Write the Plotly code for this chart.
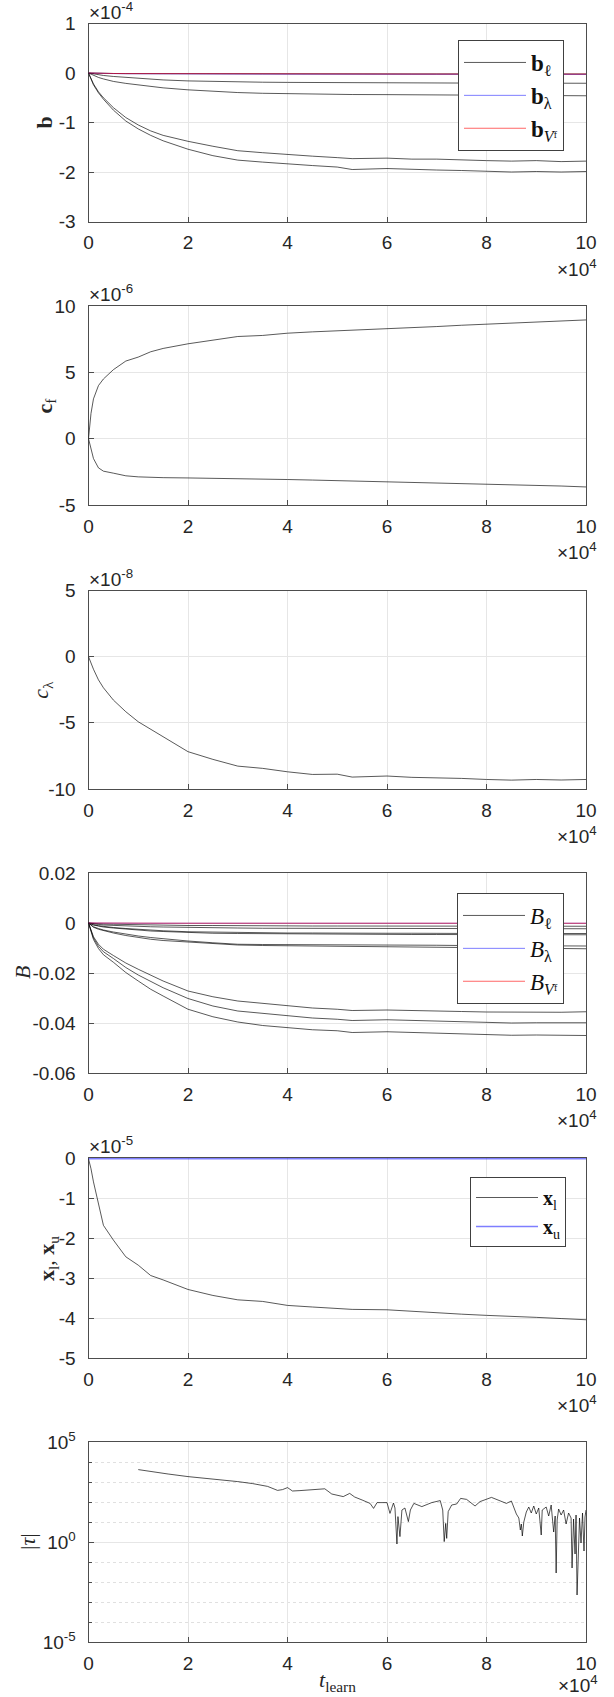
import numpy as np
import plotly.graph_objects as go

W, H = 614, 1697

# ---------------- data (x in units of 1e4) ----------------
t_grid = [0, 0.05, 0.1, 0.2, 0.3, 0.5, 0.75, 1.0, 1.25, 1.5, 2.0, 2.5, 3.0, 3.5,
          4.0, 4.5, 5.0, 5.3, 6.0, 6.5, 7.0, 7.5, 8.0, 8.5, 9.0, 9.5, 10.0]

# panel 1: b (units of 1e-4)
b_l_series = [
    [0, -0.002, -0.004, -0.006, -0.008, -0.010, -0.012, -0.013, -0.014, -0.015, -0.016, -0.017, -0.018, -0.018,
     -0.019, -0.019, -0.020, -0.020, -0.020, -0.021, -0.021, -0.021, -0.022, -0.022, -0.022, -0.022, -0.022],
    [0, -0.01, -0.02, -0.035, -0.05, -0.07, -0.09, -0.11, -0.125, -0.14, -0.16, -0.172, -0.18, -0.186,
     -0.19, -0.194, -0.197, -0.198, -0.2, -0.201, -0.202, -0.203, -0.204, -0.205, -0.206, -0.206, -0.207],
    [0, -0.025, -0.05, -0.09, -0.12, -0.17, -0.21, -0.24, -0.27, -0.3, -0.34, -0.37, -0.395, -0.41,
     -0.42, -0.425, -0.43, -0.435, -0.437, -0.44, -0.443, -0.445, -0.448, -0.452, -0.455, -0.458, -0.46],
    [0, -0.12, -0.22, -0.38, -0.5, -0.7, -0.9, -1.05, -1.17, -1.26, -1.38, -1.48, -1.57, -1.61,
     -1.65, -1.68, -1.71, -1.73, -1.72, -1.74, -1.74, -1.76, -1.77, -1.78, -1.77, -1.79, -1.78],
    [0, -0.13, -0.24, -0.4, -0.53, -0.75, -0.97, -1.13, -1.26, -1.37, -1.54, -1.67, -1.76, -1.8,
     -1.84, -1.87, -1.9, -1.95, -1.93, -1.95, -1.96, -1.97, -1.98, -2.0, -1.99, -2.0, -1.99],
]
b_lambda = [0, -0.002, -0.004, -0.007, -0.009, -0.012, -0.014, -0.016, -0.017, -0.018, -0.019, -0.020, -0.021, -0.022,
            -0.023, -0.023, -0.024, -0.024, -0.025, -0.025, -0.026, -0.026, -0.027, -0.027, -0.028, -0.028, -0.028]
b_Vf = [0, -0.002, -0.004, -0.006, -0.008, -0.010, -0.012, -0.013, -0.014, -0.015, -0.016, -0.017, -0.018, -0.018,
        -0.019, -0.019, -0.020, -0.020, -0.020, -0.021, -0.021, -0.021, -0.022, -0.022, -0.022, -0.022, -0.022]

# panel 2: c_f (units of 1e-6)
cf_upper = [0, 1.9, 3.0, 4.0, 4.5, 5.2, 5.85, 6.15, 6.55, 6.8, 7.15, 7.45, 7.7, 7.78,
            7.95, 8.05, 8.13, 8.17, 8.25, 8.35, 8.45, 8.55, 8.63, 8.7, 8.78, 8.87, 8.95]
cf_lower = [0, -0.8, -1.5, -2.2, -2.45, -2.6, -2.8, -2.88, -2.92, -2.94, -2.96, -2.98, -3.0, -3.04,
            -3.08, -3.12, -3.16, -3.19, -3.26, -3.3, -3.33, -3.37, -3.41, -3.46, -3.51, -3.57, -3.64]

# panel 3: c_lambda (units of 1e-8)
c_lambda = [0, -0.5, -0.95, -1.75, -2.35, -3.28, -4.16, -4.92, -5.5, -6.05, -7.18, -7.76, -8.27, -8.44,
            -8.7, -8.9, -8.88, -9.1, -9.02, -9.12, -9.15, -9.2, -9.28, -9.33, -9.28, -9.32, -9.28]

# panel 4: B
B_l_series = [
    [0, -0.0001, -0.0002, -0.0003, -0.0004, -0.0005, -0.0006, -0.0007, -0.0008, -0.0009, -0.0010, -0.0010, -0.0011, -0.0011,
     -0.0012, -0.0012, -0.0012, -0.0012, -0.0012, -0.0013, -0.0013, -0.0013, -0.0013, -0.0013, -0.0013, -0.0013, -0.0013],
    [0, -0.0002, -0.0004, -0.0006, -0.0008, -0.0010, -0.0012, -0.0014, -0.0015, -0.0016, -0.0018, -0.0019, -0.0020, -0.0021,
     -0.0021, -0.0021, -0.0022, -0.0022, -0.0022, -0.0022, -0.0023, -0.0023, -0.0023, -0.0023, -0.0023, -0.0023, -0.0023],
    [0, -0.0004, -0.0007, -0.0011, -0.0014, -0.0018, -0.0022, -0.0026, -0.0029, -0.0031, -0.0035, -0.0037, -0.0038, -0.0039,
     -0.0040, -0.0040, -0.0041, -0.0041, -0.0041, -0.0041, -0.0042, -0.0042, -0.0042, -0.0042, -0.0042, -0.0042, -0.0042],
    [0, -0.0004, -0.0008, -0.0012, -0.0016, -0.0020, -0.0025, -0.0029, -0.0032, -0.0034, -0.0038, -0.0041, -0.0042, -0.0043,
     -0.0044, -0.0045, -0.0045, -0.0046, -0.0046, -0.0046, -0.0046, -0.0047, -0.0047, -0.0047, -0.0047, -0.0047, -0.0047],
    [0, -0.0008, -0.0015, -0.0022, -0.0028, -0.0036, -0.0045, -0.0052, -0.0058, -0.0063, -0.0072, -0.0079, -0.0085, -0.0086,
     -0.0086, -0.0087, -0.0087, -0.0088, -0.0088, -0.0089, -0.0089, -0.0090, -0.0090, -0.0091, -0.0091, -0.0092, -0.0092],
    [0, -0.0009, -0.0017, -0.0025, -0.0031, -0.0040, -0.0050, -0.0059, -0.0065, -0.0070, -0.0076, -0.0083, -0.0088, -0.0090,
     -0.0091, -0.0093, -0.0094, -0.0095, -0.0095, -0.0097, -0.0098, -0.0099, -0.0100, -0.0101, -0.0102, -0.0103, -0.0103],
    [0, -0.0030, -0.0055, -0.0085, -0.0105, -0.0130, -0.0160, -0.0185, -0.0210, -0.0232, -0.0272, -0.0295, -0.0312, -0.0322,
     -0.0332, -0.0340, -0.0345, -0.0350, -0.0348, -0.0351, -0.0352, -0.0354, -0.0356, -0.0357, -0.0356, -0.0357, -0.0355],
    [0, -0.0033, -0.0060, -0.0093, -0.0115, -0.0142, -0.0178, -0.0208, -0.0235, -0.0259, -0.0302, -0.0332, -0.0352, -0.0362,
     -0.0372, -0.0380, -0.0385, -0.0390, -0.0387, -0.0390, -0.0392, -0.0395, -0.0399, -0.0400, -0.0399, -0.0400, -0.0399],
    [0, -0.0036, -0.0066, -0.0102, -0.0127, -0.0157, -0.0198, -0.0232, -0.0265, -0.0292, -0.0345, -0.0375, -0.0396, -0.0410,
     -0.0419, -0.0427, -0.0431, -0.0438, -0.0435, -0.0438, -0.0440, -0.0443, -0.0447, -0.0449, -0.0448, -0.0450, -0.0450],
]
B_lambda = [0, -0.00002, -0.00004, -0.00006, -0.00008, -0.0001, -0.0001, -0.0001, -0.0001, -0.0001, -0.0001, -0.0001, -0.0001, -0.0001,
            -0.0001, -0.0001, -0.0001, -0.0001, -0.0001, -0.0001, -0.0001, -0.0001, -0.0001, -0.0001, -0.0001, -0.0001, -0.0001]
B_Vf = [0, -0.00001, -0.00002, -0.00003, -0.00004, -0.00005, -0.00006, -0.00007, -0.00008, -0.00008, -0.00009, -0.0001, -0.0001, -0.0001,
        -0.0001, -0.0001, -0.0001, -0.0001, -0.0001, -0.0001, -0.0001, -0.0001, -0.0001, -0.0001, -0.0001, -0.0001, -0.0001]

# panel 5: x_l, x_u (units of 1e-5)
x_l = [0, -0.25, -0.58, -1.13, -1.67, -2.04, -2.46, -2.67, -2.93, -3.04, -3.28, -3.43, -3.54, -3.58,
       -3.68, -3.72, -3.75, -3.78, -3.79, -3.83, -3.86, -3.9, -3.93, -3.95, -3.98, -4.01, -4.04]
x_u = [0] * len(t_grid)

# panel 6: |tau| (x in 1e4, log10 of value)
tau_t = [1.0, 1.3, 1.6, 2.0, 2.3, 2.6, 3.0, 3.3, 3.6, 3.8, 3.9, 4.0, 4.1, 4.25, 4.5, 4.75, 4.89, 5.0,
         5.12, 5.25, 5.35, 5.5, 5.66, 5.73, 5.8, 6.0, 6.06, 6.13, 6.16, 6.2, 6.22, 6.26, 6.3, 6.36,
         6.43, 6.47, 6.54, 6.7, 6.9, 7.07, 7.12, 7.15, 7.18, 7.2, 7.23, 7.3, 7.4, 7.48, 7.6, 7.77,
         7.87, 8.1, 8.24, 8.4, 8.5, 8.55, 8.6, 8.65, 8.68, 8.7, 8.72, 8.75, 8.8, 8.85, 8.9, 8.95,
         9.0, 9.05, 9.1, 9.12, 9.2, 9.25, 9.3, 9.35, 9.38, 9.4, 9.42, 9.45, 9.5, 9.55, 9.6, 9.65,
         9.7, 9.72, 9.75, 9.78, 9.8, 9.82, 9.85, 9.87, 9.9, 9.93, 9.96, 9.98, 10.0]
tau_log10 = [3.62, 3.5, 3.4, 3.27, 3.2, 3.15, 3.02, 2.92, 2.78, 2.58, 2.62, 2.72, 2.55, 2.57, 2.62, 2.66, 2.4, 2.35,
             2.27, 2.43, 2.25, 2.1, 1.93, 1.68, 1.97, 1.97, 1.43, 1.95, 1.7, -0.1, 1.27, 0.27, 1.6, 1.7,
             1.02, 1.6, 1.93, 1.77, 1.97, 2.07, 1.6, 0.02, 0.93, 0.18, 1.52, 1.85, 1.9, 2.18, 2.13, 1.8,
             2.02, 2.23, 2.1, 1.93, 2.05, 1.7, 1.4, 1.2, 0.6, 0.9, 0.3, 1.0, 1.5, 1.75, 1.45, 1.8,
             1.4, 1.7, 0.35, 1.6, 1.75, 1.3, 1.85, 0.5, 1.3, -1.55, 1.1, 1.65, 1.35, 1.6, 0.9, 1.45,
             1.2, -1.3, 1.15, -0.6, 1.35, -2.65, 0.5, 1.2, -0.05, 1.45, -0.45, 1.25, 1.6]

x_ticks = [0, 2, 4, 6, 8, 10]

# ---------------- figure ----------------
t = np.array(t_grid) * 1e4
BLACK = "rgba(0,0,0,0.65)"
BLUE = "rgba(40,40,255,0.6)"
RED = "rgba(255,0,0,0.6)"

fig = go.Figure()

def add(x, y, k, color, name=None, legend=None, width=1.0):
    ax = "" if k == 1 else str(k)
    fig.add_trace(go.Scatter(
        x=x, y=y, mode="lines", line=dict(color=color, width=width),
        xaxis="x" + ax, yaxis="y" + ax, name=name or "",
        showlegend=name is not None, legend=legend, hoverinfo="skip"))

# panel 1
for i, s in enumerate(b_l_series):
    add(t, np.array(s) * 1e-4, 1, BLACK, "<b>b</b><sub>ℓ</sub>" if i == 0 else None, "legend")
add(t, np.array(b_lambda) * 1e-4, 1, BLUE, "<b>b</b><sub>λ</sub>", "legend")
add(t, np.array(b_Vf) * 1e-4, 1, RED, "<b>b</b><sub><i>V</i>ᶠ</sub>", "legend")
# panel 2
add(t, np.array(cf_upper) * 1e-6, 2, BLACK)
add(t, np.array(cf_lower) * 1e-6, 2, BLACK)
# panel 3
add(t, np.array(c_lambda) * 1e-8, 3, BLACK)
# panel 4
for i, s in enumerate(B_l_series):
    add(t, s, 4, BLACK, "<i>B</i><sub>ℓ</sub>" if i == 0 else None, "legend2")
add(t, B_lambda, 4, BLUE, "<i>B</i><sub>λ</sub>", "legend2")
add(t, B_Vf, 4, RED, "<i>B</i><sub><i>V</i>ᶠ</sub>", "legend2")
# panel 5
add(t, np.array(x_l) * 1e-5, 5, BLACK, "<b>x</b><sub>l</sub>", "legend3")
add(t, np.array(x_u) * 1e-5, 5, BLUE, "<b>x</b><sub>u</sub>", "legend3", width=1.6)
# panel 6
add(np.array(tau_t) * 1e4, np.power(10.0, tau_log10), 6, "rgba(0,0,0,0.85)", width=0.8)

# ---------------- layout ----------------
X0, X1 = 88.5, 586.0
panels = [  # (top px, bottom px)
    (23.5, 221.5), (306.0, 505.0), (590.5, 789.0),
    (873.0, 1073.0), (1158.0, 1358.0), (1442.0, 1642.0)]

AX_COL = "#4d4d4d"
GRID = "#e6e6e6"
TXT = "#262626"
TICKFONT = dict(family="Liberation Sans, Arial", size=19, color=TXT)
SERIF = "Liberation Serif, Times New Roman, serif"

y_specs = [
    dict(range=[-3e-4, 1e-4], tickvals=[-3e-4, -2e-4, -1e-4, 0, 1e-4], ticktext=["-3", "-2", "-1", "0", "1"],
         title="<b>b</b>", exp="-4", tx=44),
    dict(range=[-5e-6, 1e-5], tickvals=[-5e-6, 0, 5e-6, 1e-5], ticktext=["-5", "0", "5", "10"],
         title="<b>c</b><sub>f</sub>", exp="-6", tx=45),
    dict(range=[-1e-7, 5e-8], tickvals=[-1e-7, -5e-8, 0, 5e-8], ticktext=["-10", "-5", "0", "5"],
         title="<i>c</i><sub>λ</sub>", exp="-8", tx=42),
    dict(range=[-0.06, 0.02], tickvals=[-0.06, -0.04, -0.02, 0, 0.02], ticktext=["-0.06", "-0.04", "-0.02", "0", "0.02"],
         title="<i>B</i>", exp=None, tx=22),
    dict(range=[-5e-5, 0.02e-5], tickvals=[-5e-5, -4e-5, -3e-5, -2e-5, -1e-5, 0], ticktext=["-5", "-4", "-3", "-2", "-1", "0"],
         title="<b>x</b><sub>l</sub>, <b>x</b><sub>u</sub>", exp="-5", tx=48),
    dict(range=[-5, 5], tickvals=[1e-5, 1, 1e5], ticktext=["10<sup>-5</sup>", "10<sup>0</sup>", "10<sup>5</sup>"],
         title="|<i>τ</i>|", exp=None, tx=27, log=True),
]

layout = dict(template="none", width=W, height=H, margin=dict(l=0, r=0, t=0, b=0, autoexpand=False),
              paper_bgcolor="white", plot_bgcolor="white", showlegend=True)
annotations = []

for k, ((top, bot), ys) in enumerate(zip(panels, y_specs), start=1):
    ax = "" if k == 1 else str(k)
    dom_y = [1 - bot / H, 1 - top / H]
    common = dict(showgrid=True, gridcolor=GRID, gridwidth=1, zeroline=False,
                  showline=True, linecolor=AX_COL, linewidth=1, mirror=True,
                  ticks="inside", ticklen=5, tickcolor=AX_COL, tickfont=TICKFONT,
                  automargin=False, layer="below traces")
    xa = dict(common, domain=[X0 / W, X1 / W], range=[0, 1e5], anchor="y" + ax,
              tickvals=[v * 1e4 for v in x_ticks], ticktext=[str(v) for v in x_ticks],
              ticklabelstandoff=4)
    ya = dict(common, domain=dom_y, range=ys["range"], anchor="x" + ax,
              tickvals=ys["tickvals"], ticktext=ys["ticktext"], ticklabelstandoff=8)
    if ys.get("log"):
        ya["type"] = "log"
        ya["minor"] = dict(tickvals=[1e-4, 1e-3, 1e-2, 1e-1, 1e1, 1e2, 1e3, 1e4],
                           showgrid=True, gridcolor="#e0e0e0", griddash="dot", gridwidth=1,
                           ticks="inside", ticklen=3, tickcolor=AX_COL)
    layout["xaxis" + ax] = xa
    layout["yaxis" + ax] = ya

    # y-axis label
    annotations.append(dict(xref="paper", yref="paper", x=ys["tx"] / W, y=1 - (top + bot) / 2 / H,
                            xanchor="center", yanchor="middle", textangle=-90, showarrow=False,
                            text=ys["title"], font=dict(family=SERIF, size=22, color=TXT)))
    # exponent labels
    if ys["exp"] is not None:
        annotations.append(dict(xref="paper", yref="paper", x=(X0 - 2) / W, y=1 - (top + 1) / H,
                                xanchor="left", yanchor="bottom", showarrow=False,
                                text="×10<sup>" + ys["exp"] + "</sup>", font=TICKFONT))
    if k < 6:
        annotations.append(dict(xref="paper", yref="paper", x=599 / W, y=1 - (bot + 46) / H,
                                xanchor="right", yanchor="middle", showarrow=False,
                                text="×10<sup>4</sup>", font=TICKFONT))
    else:
        annotations.append(dict(xref="paper", yref="paper", x=599 / W, y=1 - 1697 / H,
                                xanchor="right", yanchor="bottom", showarrow=False, borderpad=0,
                                text="×10<sup>4</sup>", font=TICKFONT))

# x-axis label of last panel
annotations.append(dict(xref="paper", yref="paper", x=(X0 + X1) / 2 / W, y=1 - 1681 / H,
                        xanchor="center", yanchor="middle", showarrow=False,
                        text="<i>t</i><sub>learn</sub>", font=dict(family=SERIF, size=22, color=TXT)))

layout["annotations"] = annotations

leg_common = dict(bgcolor="white", bordercolor="#404040", borderwidth=1,
                  font=dict(family=SERIF, size=23, color="#111111"),
                  xanchor="right", yanchor="top", itemwidth=62, tracegroupgap=0)
layout["legend"] = dict(leg_common, x=564 / W, y=1 - 40 / H)
layout["legend2"] = dict(leg_common, x=564 / W, y=1 - 893 / H)
layout["legend3"] = dict(leg_common, x=566 / W, y=1 - 1177 / H,
                         font=dict(family=SERIF, size=20, color="#111111"))

fig.update_layout(**layout)
fig.write_html("out.html", config={"displayModeBar": False},
               post_script="document.body.style.margin='0';document.body.style.overflow='hidden';")
